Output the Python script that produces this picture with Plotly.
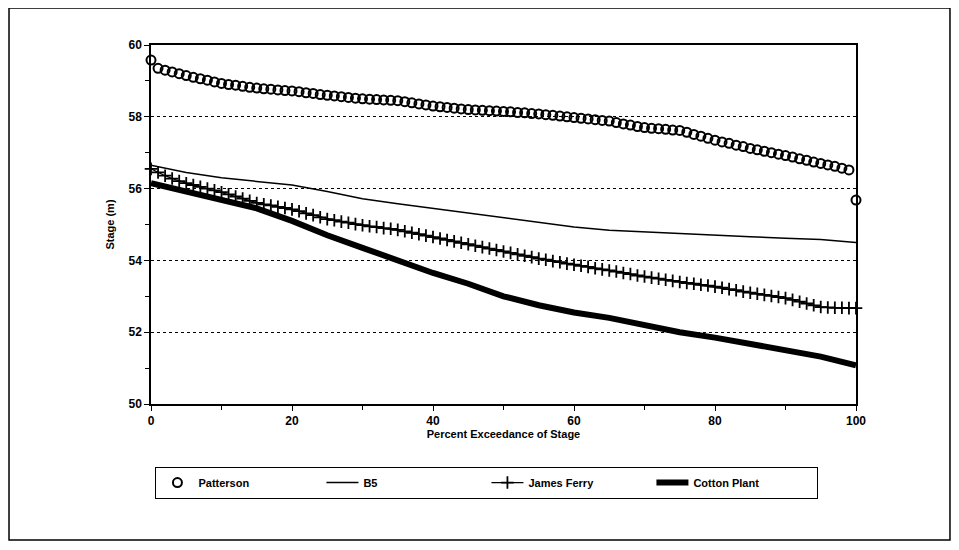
import plotly.graph_objects as go

# Percent exceedance (x) for the 1%-spaced marker series
pct_1 = list(range(0, 101))

patterson = [59.58, 59.35, 59.30, 59.25, 59.20, 59.15, 59.10, 59.06, 59.02, 58.97,
             58.93, 58.90, 58.88, 58.85, 58.82, 58.80, 58.78, 58.77, 58.75, 58.73,
             58.72, 58.70, 58.67, 58.65, 58.62, 58.60, 58.58, 58.56, 58.54, 58.52,
             58.50, 58.49, 58.48, 58.47, 58.46, 58.45, 58.42, 58.39, 58.36, 58.33,
             58.30, 58.28, 58.26, 58.24, 58.22, 58.20, 58.19, 58.18, 58.17, 58.16,
             58.15, 58.14, 58.12, 58.11, 58.09, 58.08, 58.06, 58.04, 58.02, 58.00,
             57.98, 57.96, 57.94, 57.92, 57.90, 57.88, 57.84, 57.80, 57.77, 57.73,
             57.70, 57.68, 57.67, 57.65, 57.63, 57.62, 57.57, 57.51, 57.46, 57.40,
             57.35, 57.30, 57.26, 57.21, 57.17, 57.12, 57.08, 57.04, 57.00, 56.96,
             56.92, 56.88, 56.83, 56.79, 56.74, 56.70, 56.66, 56.62, 56.57, 56.52,
             55.68]

james_ferry = [56.55, 56.45, 56.36, 56.28, 56.21, 56.15, 56.10, 56.05, 56.00, 55.95,
               55.90, 55.84, 55.78, 55.72, 55.66, 55.60, 55.56, 55.53, 55.49, 55.46,
               55.42, 55.37, 55.31, 55.26, 55.20, 55.15, 55.12, 55.08, 55.05, 55.01,
               54.98, 54.95, 54.93, 54.90, 54.88, 54.85, 54.81, 54.77, 54.73, 54.69,
               54.65, 54.61, 54.57, 54.53, 54.49, 54.45, 54.41, 54.37, 54.33, 54.29,
               54.25, 54.21, 54.17, 54.13, 54.09, 54.05, 54.02, 53.98, 53.95, 53.91,
               53.88, 53.85, 53.82, 53.78, 53.75, 53.72, 53.69, 53.65, 53.62, 53.58,
               53.55, 53.52, 53.49, 53.46, 53.43, 53.40, 53.37, 53.35, 53.32, 53.30,
               53.27, 53.24, 53.20, 53.17, 53.13, 53.10, 53.07, 53.04, 53.01, 52.98,
               52.95, 52.90, 52.85, 52.80, 52.75, 52.70, 52.69, 52.68, 52.68, 52.67,
               52.67]

# Percent exceedance (x) for the line-only series
pct_5 = list(range(0, 101, 5))

b5 = [56.65, 56.45, 56.30, 56.20, 56.10, 55.92, 55.72, 55.58, 55.45, 55.33, 55.20,
      55.08, 54.93, 54.84, 54.79, 54.74, 54.70, 54.66, 54.62, 54.58, 54.50]

cotton_plant = [56.15, 55.92, 55.70, 55.45, 55.10, 54.70, 54.35, 53.98, 53.65, 53.35,
                53.00, 52.75, 52.55, 52.40, 52.18, 52.00, 51.85, 51.67, 51.48, 51.32,
                51.08]

y_ticks = [50, 52, 54, 56, 58, 60]
x_ticks = [0, 20, 40, 60, 80, 100]

FONT = "Liberation Sans, Arial, sans-serif"

fig = go.Figure()
fig.add_trace(go.Scatter(
    x=pct_1, y=patterson, name="Patterson", mode="markers",
    marker=dict(symbol="circle-open", size=9, color="black", line=dict(width=2)),
    cliponaxis=False,
))
fig.add_trace(go.Scatter(
    x=pct_5, y=b5, name="B5", mode="lines",
    line=dict(color="black", width=1.5),
))
fig.add_trace(go.Scatter(
    x=pct_1, y=james_ferry, name="James Ferry", mode="lines+markers",
    line=dict(color="black", width=1.2),
    marker=dict(symbol="cross-thin", size=9, color="black", line=dict(width=1.8, color="black")),
    cliponaxis=False,
))
fig.add_trace(go.Scatter(
    x=pct_5, y=cotton_plant, name="Cotton Plant", mode="lines",
    line=dict(color="black", width=6),
    cliponaxis=False,
))

# outer frame around the whole chart
fig.add_shape(type="rect", xref="paper", yref="paper",
              x0=-0.2014, x1=1.1333, y0=-0.3788, y1=1.1031,
              line=dict(color="black", width=1.5))

fig.update_layout(
    width=951, height=542,
    margin=dict(l=143, r=103, t=37, b=146, autoexpand=False),
    paper_bgcolor="white", plot_bgcolor="white",
    font=dict(family=FONT, size=12, color="black"),
    showlegend=True,
    legend=dict(
        orientation="h", x=0.006, xanchor="left", y=-0.175, yanchor="top",
        entrywidth=118, entrywidthmode="pixels",
        bordercolor="black", borderwidth=1.2,
        font=dict(family=FONT, size=11, color="black", weight="bold"),
        itemwidth=32, tracegroupgap=0,
    ),
    xaxis=dict(
        range=[0, 100], tickvals=x_ticks, ticktext=[str(v) for v in x_ticks],
        showgrid=False, zeroline=False, automargin=False,
        showline=True, linecolor="black", linewidth=1.5, mirror=True,
        ticks="outside", ticklen=5, tickwidth=1.2, tickcolor="black",
        minor=dict(dtick=10, ticks="outside", ticklen=4, tickwidth=1.2, tickcolor="black"),
        tickfont=dict(family=FONT, size=12, weight="bold"),
        title=dict(text="Percent Exceedance of Stage",
                   font=dict(family=FONT, size=11, weight="bold"), standoff=2),
    ),
    yaxis=dict(
        range=[50, 60], tickvals=y_ticks, ticktext=[str(v) for v in y_ticks],
        showgrid=True, gridcolor="black", griddash="dot", gridwidth=1,
        zeroline=False, automargin=False,
        showline=True, linecolor="black", linewidth=1.5, mirror=True,
        ticks="outside", ticklen=5, tickwidth=1.2, tickcolor="black",
        minor=dict(dtick=1, ticks="outside", ticklen=4, tickwidth=1.2, tickcolor="black", showgrid=False),
        tickfont=dict(family=FONT, size=12, weight="bold"),
        title=dict(text="Stage (m)", font=dict(family=FONT, size=11, weight="bold"), standoff=12),
    ),
)

fig.write_html("out.html")
